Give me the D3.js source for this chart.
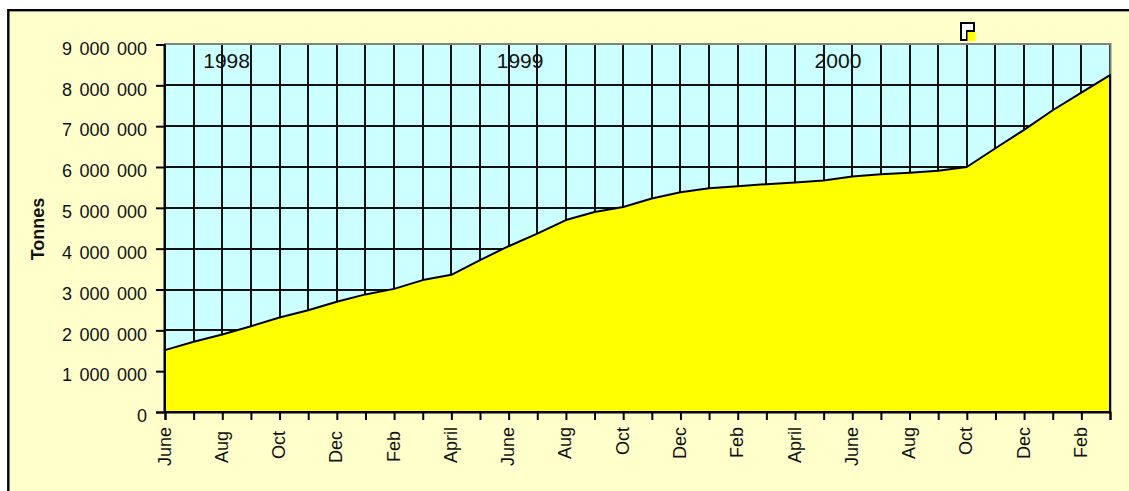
<!DOCTYPE html>
<html>
<head>
<meta charset="utf-8">
<script src="https://cdn.jsdelivr.net/npm/d3@7"></script>
<style>
  html, body { margin: 0; padding: 0; background: #fff; }
  svg { display: block; }
  text { font-family: "Liberation Sans", Arial, sans-serif; fill: #111; }
</style>
</head>
<body>
<div id="chart"></div>
<script>
// month of each point, June 1998 to March 2001
const months = ["June","July","Aug","Sept","Oct","Nov","Dec","Jan","Feb","March","April","May",
                "June","July","Aug","Sept","Oct","Nov","Dec","Jan","Feb","March","April","May",
                "June","July","Aug","Sept","Oct","Nov","Dec","Jan","Feb","March"];

// cumulative tonnes
const tonnes = [1516000,1720000,1900000,2100000,2316000,2490000,2700000,2880000,3015000,3230000,3360000,3720000,
                4060000,4370000,4700000,4900000,5020000,5230000,5380000,5480000,5530000,5580000,5620000,5670000,
                5770000,5820000,5860000,5910000,6000000,6460000,6910000,7390000,7820000,8250000];

const yTicks = [0,1000000,2000000,3000000,4000000,5000000,6000000,7000000,8000000,9000000];
const years = ["1998","1999","2000"];
const yearIndex = [2.15,12.4,23.5];

const width = 1129, height = 491;
const lineW = 2;

var svg = d3.select("#chart")
    .append("svg")
    .attr("width", width)
    .attr("height", height);

// panel with black top and left edges, runs off the right and bottom of the picture
svg.append("rect")
    .attr("x", 8.3).attr("y", 10.2)
    .attr("width", width).attr("height", height)
    .style("fill", "#FFFFCC")
    .style("stroke", "#000")
    .style("stroke-width", 2.4);

var x = d3.scalePoint().domain(d3.range(months.length)).range([165, 1110]);
var y = d3.scaleLinear().domain([0, 9000000]).range([412, 44.5]);

var px = i => Math.round(x(i));
var py = v => Math.round(y(v));

svg.append("rect")
    .attr("x", 164).attr("y", 44)
    .attr("width", 946).attr("height", 368)
    .style("fill", "#CCFFFF");

// grid
svg.append("g").selectAll("line")
    .data(d3.range(months.length))
    .join("line")
    .attr("x1", px).attr("x2", px)
    .attr("y1", 45).attr("y2", 412)
    .style("stroke", "#111")
    .style("stroke-width", lineW);

svg.append("g").selectAll("line")
    .data(yTicks.slice(1, -1))
    .join("line")
    .attr("x1", 164).attr("x2", 1110)
    .attr("y1", py).attr("y2", py)
    .style("stroke", "#111")
    .style("stroke-width", lineW);

// grey top and right edges of the plot
svg.append("path")
    .attr("d", "M164,44H1110.5V412")
    .style("fill", "none")
    .style("stroke", "#808080")
    .style("stroke-width", lineW);

var area = d3.area()
    .x((d, i) => x(i))
    .y0(y(0))
    .y1(d => y(d));

svg.append("path")
    .datum(tonnes)
    .attr("d", area)
    .style("fill", "#FFFF00")
    .style("stroke", "#000")
    .style("stroke-width", lineW)
    .style("stroke-linejoin", "round");

// axes
var yAxis = d3.axisLeft(y)
    .tickValues(yTicks)
    .tickSize(8)
    .tickPadding(9)
    .tickFormat(d => d3.format(",")(d).replace(/,/g, " "));

var gy = svg.append("g")
    .attr("transform", "translate(164,0)")
    .call(yAxis);
gy.selectAll("text")
    .attr("y", 4)
    .style("font-size", "18px")
    .style("word-spacing", "2.5px");

var xAxis = d3.axisBottom(x)
    .tickSize(8)
    .tickFormat(i => i % 2 == 0 ? months[i] : "");

var gx = svg.append("g")
    .attr("transform", "translate(0,412)")
    .call(xAxis);
// the labels of the first months sit a little lower in the original
gx.selectAll("text")
    .attr("transform", "rotate(-90)")
    .attr("x", i => i >= 2 && i <= 8 ? -19 : -15)
    .attr("y", 0)
    .attr("dy", "5px")
    .style("text-anchor", "end")
    .style("font-size", "18px");

[gx, gy].forEach(g => {
    g.selectAll("line").style("stroke", "#000").style("stroke-width", lineW);
    g.select(".domain").style("stroke", "#000").style("stroke-width", lineW);
});

svg.append("text")
    .attr("transform", "translate(44,229) rotate(-90)")
    .style("text-anchor", "middle")
    .style("font-size", "18px")
    .style("font-weight", "bold")
    .text("Tonnes");

svg.append("g").selectAll("text")
    .data(years)
    .join("text")
    .attr("x", (d, i) => x(0) + yearIndex[i] * (x(1) - x(0)))
    .attr("y", 68)
    .style("text-anchor", "middle")
    .style("font-size", "21px")
    .text(d => d);

// little marker above the plot
svg.append("path")
    .attr("d", "M961,23H974V31H967V40H961Z")
    .style("fill", "#fff")
    .style("stroke", "#000")
    .style("stroke-width", 2);
svg.append("rect")
    .attr("x", 967.5).attr("y", 32)
    .attr("width", 8).attr("height", 9)
    .style("fill", "#FFFF00");
</script>
</body>
</html>
